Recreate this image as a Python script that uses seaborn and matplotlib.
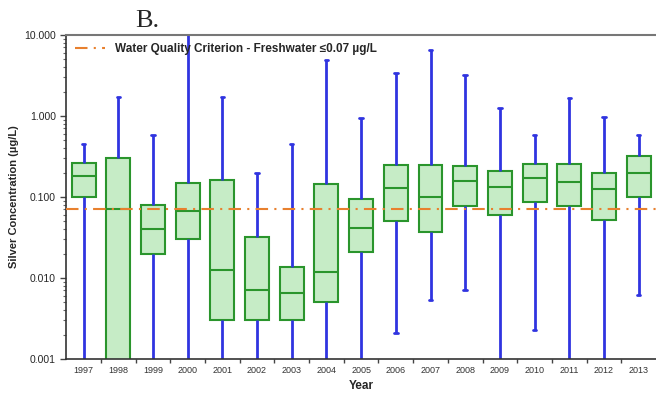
import numpy as np
import pandas as pd
import matplotlib
matplotlib.use('Agg')
import matplotlib.pyplot as plt
from matplotlib.ticker import FixedLocator, NullFormatter
import seaborn as sns

years = ['1997', '1998', '1999', '2000', '2001', '2002', '2003', '2004', '2005',
         '2006', '2007', '2008', '2009', '2010', '2011', '2012', '2013']
# box-and-whisker summary per year (µg/L); values below 0.001 run off the axis
whisker_low = [0.0005, 0.0005, 0.0005, 0.0005, 0.0005, 0.0005, 0.0005, 0.0005, 0.0005,
               0.0021, 0.0053, 0.0071, 0.0005, 0.0023, 0.0005, 0.0005, 0.0062]
q1 = [0.100, 0.0005, 0.020, 0.030, 0.0030, 0.0030, 0.0030, 0.0050, 0.021,
      0.051, 0.037, 0.077, 0.060, 0.087, 0.077, 0.052, 0.100]
median = [0.180, 0.071, 0.040, 0.067, 0.0126, 0.0071, 0.0065, 0.0119, 0.041,
          0.129, 0.100, 0.158, 0.133, 0.172, 0.153, 0.126, 0.198]
q3 = [0.263, 0.300, 0.080, 0.149, 0.162, 0.032, 0.0137, 0.145, 0.094,
      0.248, 0.248, 0.241, 0.209, 0.256, 0.256, 0.200, 0.320]
whisker_high = [0.45, 1.72, 0.58, 12.0, 1.72, 0.20, 0.45, 4.9, 0.94,
                3.4, 6.5, 3.2, 1.26, 0.58, 1.67, 0.97, 0.58]
criterion = 0.07

rows = []
for i, yr in enumerate(years):
    for v in (whisker_low[i], q1[i], median[i], q3[i], whisker_high[i]):
        rows.append({'Year': yr, 'Silver': v})
df = pd.DataFrame(rows)

sns.set_style('ticks')
plt.rcParams['font.family'] = ['Liberation Sans', 'DejaVu Sans']

fig = plt.figure(figsize=(6.56, 3.97), dpi=100)
ax = fig.add_axes([0.101, 0.096, 0.899, 0.816])

green_edge = '#2a952c'
blue = '#3034e0'
sns.boxplot(data=df, x='Year', y='Silver', order=years, log_scale=True,
            whis=(0, 100), width=0.69, linewidth=1.5, ax=ax,
            boxprops=dict(facecolor='#c6ecc6', edgecolor=green_edge, linewidth=1.5),
            medianprops=dict(color=green_edge, linewidth=1.5),
            whiskerprops=dict(color=blue, linewidth=2.0),
            capprops=dict(color=blue, linewidth=2.0),
            capwidths=0.1, showfliers=False)

ax.axhline(criterion, color='#e8802e', linestyle=(0, (6, 3, 1, 3)), linewidth=1.5,
           label='Water Quality Criterion - Freshwater \u22640.07 \u00b5g/L', zorder=5)

ax.set_ylim(0.001, 10)
ax.set_xlim(-0.5, len(years) - 0.5)
ax.set_yticks([0.001, 0.01, 0.1, 1, 10])
ax.set_yticklabels(['0.001', '0.010', '0.100', '1.000', '10.000'], fontsize=7.5)
ax.yaxis.set_minor_formatter(NullFormatter())
ax.tick_params(axis='y', which='major', length=4, width=1, color='#444444')
ax.tick_params(axis='y', which='minor', length=2, width=0.8, color='#666666')

ax.set_xticks(range(len(years)))
ax.set_xticklabels(years, fontsize=6.5, color='#333333')
ax.xaxis.set_minor_locator(FixedLocator(np.arange(0.5, len(years) - 1, 1.0)))
ax.tick_params(axis='x', which='major', length=0, pad=5)
ax.tick_params(axis='x', which='minor', length=3, width=1, color='#444444')

ax.set_xlabel('Year', fontsize=8.5, fontweight='bold', labelpad=4)
ax.set_ylabel('Silver Concentration (\u00b5g/L)', fontsize=8, fontweight='bold', labelpad=4)

for side in ['left', 'bottom']:
    ax.spines[side].set_color('#333333')
    ax.spines[side].set_linewidth(1.2)
ax.spines['top'].set_visible(True)
ax.spines['top'].set_color('#777777')
ax.spines['top'].set_linewidth(1.5)
ax.spines['right'].set_visible(False)

ax.legend(loc='upper left', frameon=False, prop={'weight': 'bold', 'size': 8.5},
          handlelength=2.6, borderaxespad=0.3, handletextpad=0.8)

fig.text(0.225, 0.948, 'B.', fontsize=19, family='Liberation Serif', ha='center', va='center')

fig.savefig('out.png', dpi=100)
